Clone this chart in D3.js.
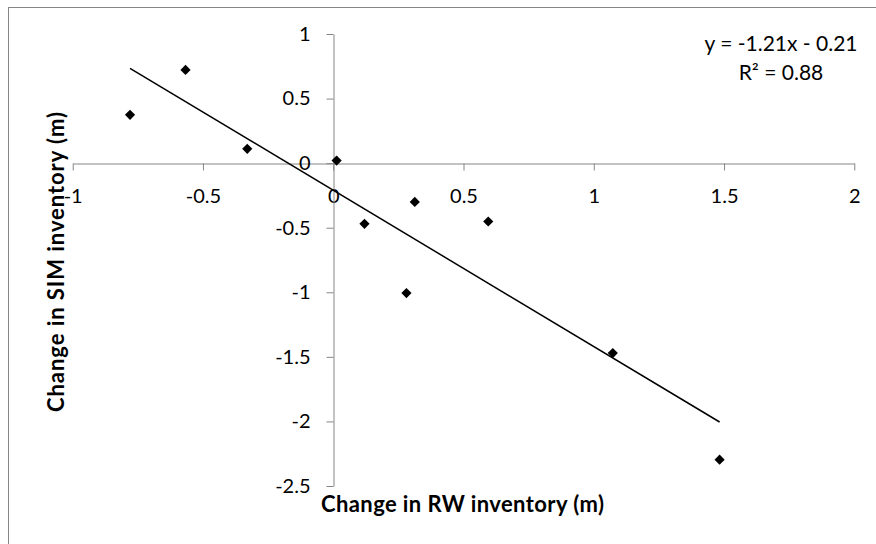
<!DOCTYPE html>
<html>
<head>
<meta charset="utf-8">
<script src="https://cdn.jsdelivr.net/npm/d3@7"></script>
<style>
  html, body { margin: 0; padding: 0; background: #fff; }
  svg { display: block; }
  text { font-family: Lato, "Open Sans", sans-serif; }
</style>
</head>
<body>
<svg id="chart" width="876" height="544"></svg>
<script>
// Change in RW inventory vs change in SIM inventory (metres)
const rwChange  = [-0.78, -0.567, -0.33, 0.013, 0.12, 0.313, 0.595, 0.281, 1.073, 1.483];
const simChange = [0.374, 0.722, 0.111, 0.020, -0.470, -0.300, -0.452, -1.006, -1.471, -2.296];

// Linear trend line, as reported in the label
const slope = -1.21;
const intercept = -0.21;
const rSquared = 0.88;

const xTicks = [-1, -0.5, 0, 0.5, 1, 1.5, 2];
const yTicks = [1, 0.5, 0, -0.5, -1, -1.5, -2, -2.5];

const xTitle = "Change in RW inventory (m)";
const yTitle = "Change in SIM inventory (m)";

const svg = d3.select("#chart");
const W = 876, H = 544;

const x = d3.scaleLinear().domain([-1, 2]).range([72.7, 854.3]);
const y = d3.scaleLinear().domain([-2.5, 1]).range([486, 34]);

const axisColor = "#868686";
// plain hyphen-minus for negative numbers
const fmt = d => String(d);

// chart frame
svg.append("rect")
  .attr("x", 8.5).attr("y", 7.5)
  .attr("width", W + 20).attr("height", H + 20)
  .attr("fill", "#fff")
  .attr("stroke", axisColor).attr("stroke-width", 1);

// horizontal axis through y = 0
const xAxis = d3.axisBottom(x)
  .tickValues(xTicks)
  .tickSize(7)
  .tickSizeOuter(0)
  .tickFormat(fmt);

const gx = svg.append("g")
  .attr("transform", `translate(0,${Math.round(y(0)) + 0.5})`)
  .call(xAxis);
gx.select(".domain").attr("stroke", axisColor);
gx.selectAll(".tick line").attr("stroke", axisColor);
gx.selectAll(".tick text")
  .attr("y", 25)
  .attr("dy", "0.71em")
  .attr("fill", "#000")
  .style("font-size", "20px")
  .style("font-family", "Lato, sans-serif");

// vertical axis through x = 0
const yAxis = d3.axisLeft(y)
  .tickValues(yTicks)
  .tickSize(7)
  .tickSizeOuter(0)
  .tickFormat(fmt);

const gy = svg.append("g")
  .attr("transform", `translate(${Math.round(x(0)) + 0.5},0)`)
  .call(yAxis);
gy.select(".domain").attr("stroke", axisColor);
gy.selectAll(".tick line").attr("stroke", axisColor);
gy.selectAll(".tick text")
  .attr("x", -23)
  .attr("fill", "#000")
  .style("font-size", "20px")
  .style("font-family", "Lato, sans-serif");

// trend line across the range of the data
const xExt = d3.extent(rwChange);
svg.append("line")
  .attr("x1", x(xExt[0])).attr("y1", y(slope * xExt[0] + intercept))
  .attr("x2", x(xExt[1])).attr("y2", y(slope * xExt[1] + intercept))
  .attr("stroke", "#000").attr("stroke-width", 1.5);

// data points as diamonds
const diamond = d3.symbol().type(d3.symbolSquare).size(52);
svg.append("g")
  .selectAll("path")
  .data(rwChange.map((v, i) => [v, simChange[i]]))
  .join("path")
  .attr("d", diamond)
  .attr("transform", d => `translate(${x(d[0])},${y(d[1])}) rotate(45)`)
  .attr("fill", "#000");

// regression label
svg.append("text")
  .attr("x", 781).attr("y", 51)
  .attr("text-anchor", "middle")
  .attr("fill", "#000")
  .style("font-size", "21px")
  .text(`y = ${slope}x - ${Math.abs(intercept)}`);

svg.append("text")
  .attr("x", 781).attr("y", 80)
  .attr("text-anchor", "middle")
  .attr("fill", "#000")
  .style("font-size", "21px")
  .text(`R² = ${rSquared.toFixed(2)}`);

// axis titles
svg.append("text")
  .attr("x", 321).attr("y", 512)
  .attr("fill", "#000")
  .attr("textLength", 283)
  .attr("lengthAdjust", "spacing")
  .style("font-size", "22px")
  .style("font-weight", "bold")
  .text(xTitle);

svg.append("text")
  .attr("transform", "translate(64,262) rotate(-90)")
  .attr("text-anchor", "middle")
  .attr("fill", "#000")
  .attr("textLength", 300)
  .attr("lengthAdjust", "spacing")
  .style("font-size", "22px")
  .style("font-weight", "bold")
  .text(yTitle);
</script>
</body>
</html>
